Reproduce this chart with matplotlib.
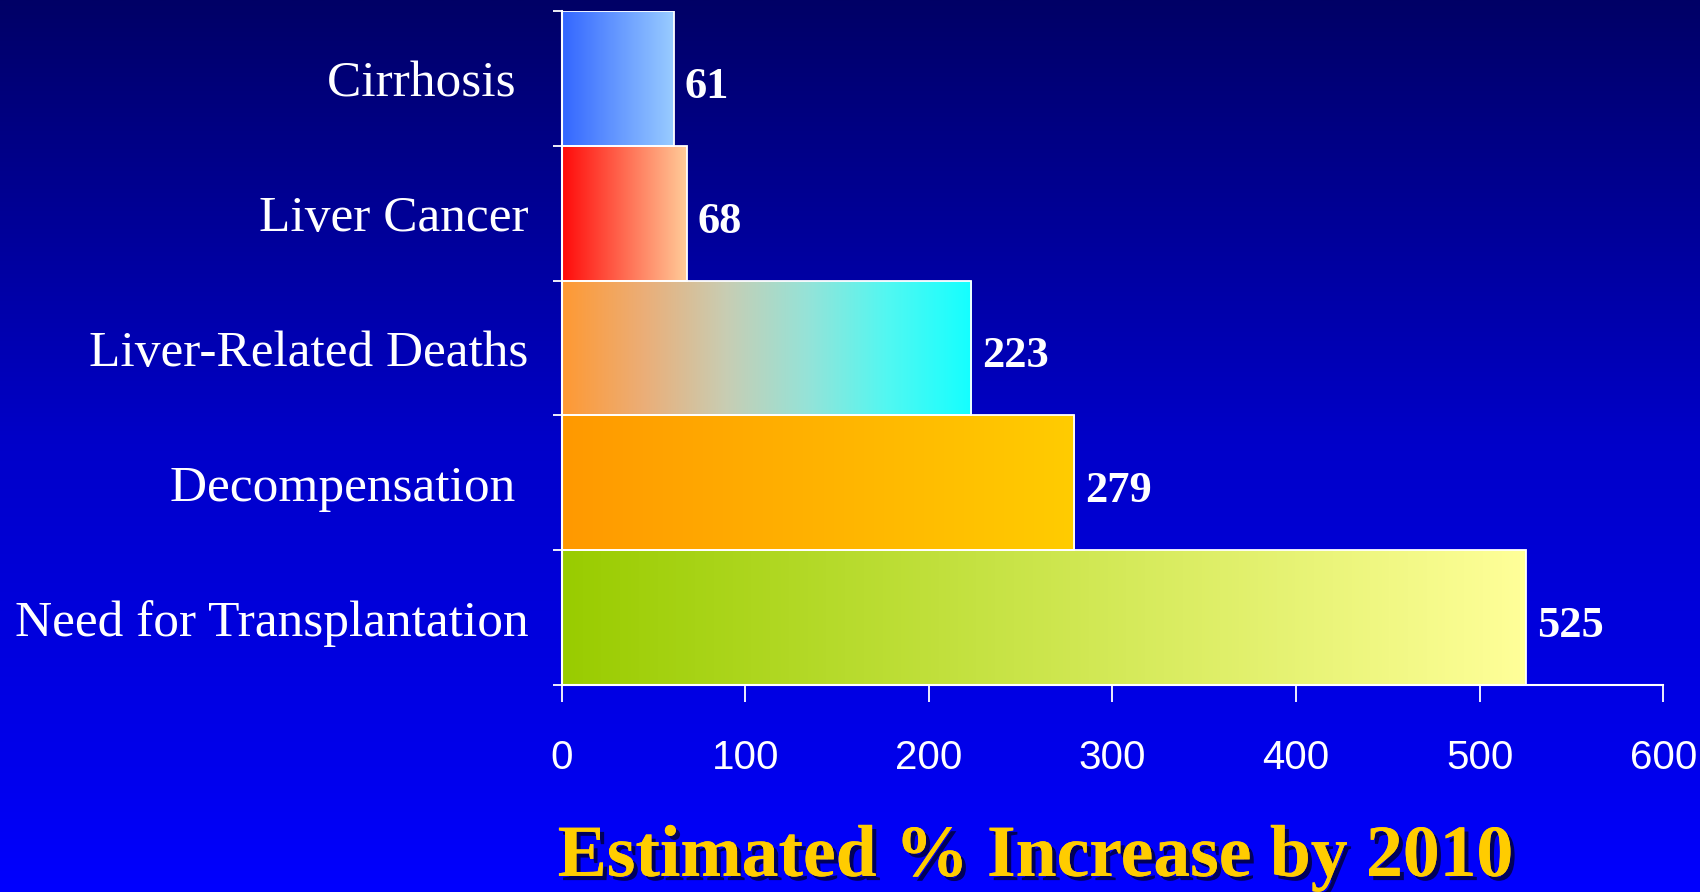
import numpy as np
import matplotlib
matplotlib.use("Agg")
import matplotlib.pyplot as plt
from matplotlib.colors import LinearSegmentedColormap, to_rgb
from matplotlib import patheffects as pe

# Data
categories = ["Cirrhosis ", "Liver Cancer", "Liver-Related Deaths",
              "Decompensation ", "Need for Transplantation"]
values = [61, 68, 223, 279, 525]
x_ticks = [0, 100, 200, 300, 400, 500, 600]
title = "Estimated % Increase by 2010"

# Left-to-right gradient colour stops for each bar
bar_gradients = [
    ["#3366FF", "#99CCFF"],
    ["#FF0A0A", "#FFCC99"],
    ["#FF9933", "#EBAE78", "#C8CDB3", "#95E3D8", "#50F8F2", "#14FFFF"],
    ["#FF9900", "#FFCC00"],
    ["#99CC00", "#FFFF99"],
]

serif = ["Liberation Serif", "DejaVu Serif"]
narrow = ["Liberation Sans Narrow", "Liberation Sans", "DejaVu Sans"]

fig = plt.figure(figsize=(17, 8.92), dpi=100)

# Vertical background gradient: navy at the top to pure blue at the bottom
bg = fig.add_axes([0, 0, 1, 1], zorder=-10)
rows = np.linspace(0, 1, 400)
blue = np.interp(rows, [0.0, 0.5, 0.85, 1.0], [0.40, 0.79, 0.92, 1.0])
bg_img = np.zeros((400, 1, 3))
bg_img[:, 0, 2] = blue
bg.imshow(bg_img, aspect="auto", extent=(0, 1, 1, 0), interpolation="bilinear")
bg.set_axis_off()

ax = fig.add_axes([0.3304, 0.2321, 0.6480, 0.7556])
ax.set_facecolor("none")

pos = np.arange(len(categories))
bars = ax.barh(pos, values, height=1.0, facecolor="none",
               edgecolor="white", linewidth=1.3, zorder=3)

# Fill each bar with its horizontal gradient, clipped to the bar
for patch, stops in zip(bars.patches, bar_gradients):
    x0, y0 = patch.get_x(), patch.get_y()
    w, h = patch.get_width(), patch.get_height()
    cmap = LinearSegmentedColormap.from_list("g", [to_rgb(c) for c in stops])
    grad = np.linspace(0, 1, 256).reshape(1, -1)
    im = ax.imshow(grad, cmap=cmap, aspect="auto", interpolation="bilinear",
                   extent=(x0, x0 + w, y0 + h, y0), zorder=2)
    im.set_clip_path(patch)

# Value labels at the bar ends
for p, v in zip(pos, values):
    ax.annotate(f"{v}", xy=(v, p), xytext=(8, -6), textcoords="offset points",
                ha="left", va="center", color="white", fontsize=32,
                fontweight="bold", family=serif)

ax.set_xlim(0, 600)
ax.set_ylim(len(categories) - 0.5, -0.5)

# X axis
ax.set_xticks(x_ticks)
ax.set_xticklabels([str(t) for t in x_ticks], family=narrow, fontsize=29,
                   color="white")
ax.tick_params(axis="x", direction="out", length=12, width=1.3,
               color="white", pad=27)

# Y axis: ticks at category boundaries, labels centred on the bars
ax.set_yticks(np.arange(-0.5, len(categories), 1.0))
ax.set_yticklabels([])
ax.set_yticks(pos, minor=True)
ax.set_yticklabels(categories, minor=True, family=serif, fontsize=37,
                   color="white")
ax.tick_params(axis="y", which="major", direction="out", length=6.5,
               width=1.3, color="white")
ax.tick_params(axis="y", which="minor", length=0, pad=24)

for side in ("top", "right"):
    ax.spines[side].set_visible(False)
for side in ("left", "bottom"):
    ax.spines[side].set_color("white")
    ax.spines[side].set_linewidth(1.5)

fig.text(0.609, 0.018, title, ha="center", va="baseline", color="#FFCC00",
         fontsize=53, fontweight="bold", family=serif,
         path_effects=[pe.withSimplePatchShadow(offset=(3, -3),
                                                shadow_rgbFace="#000033",
                                                alpha=0.8),
                       pe.Normal()])

fig.savefig("out.png", dpi=100)
